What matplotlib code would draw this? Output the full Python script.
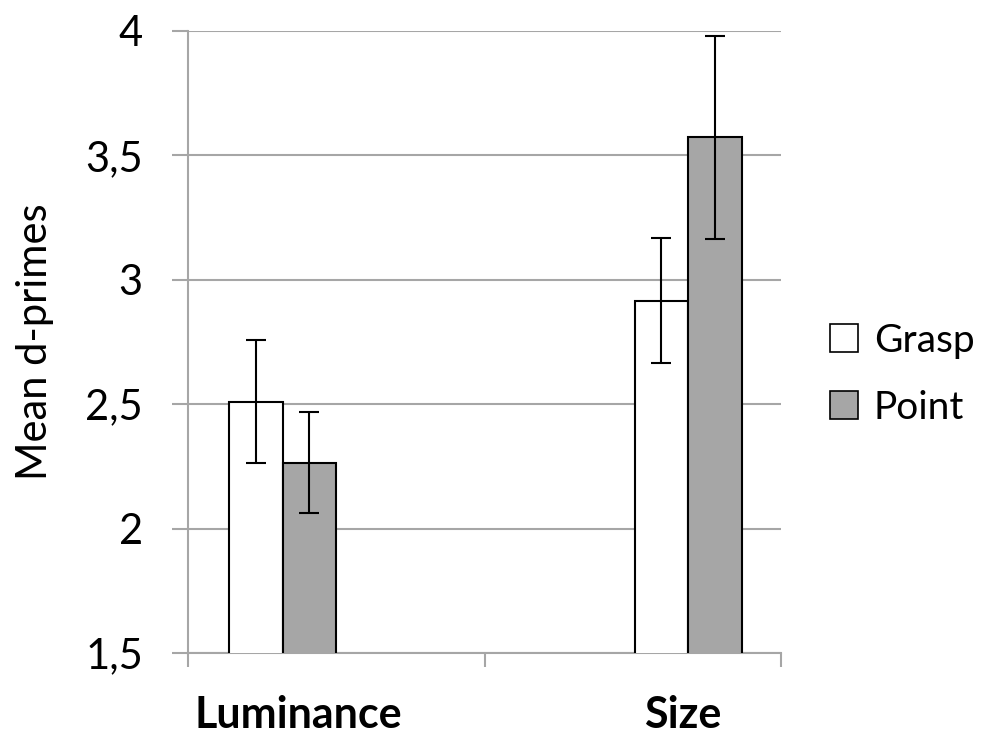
import numpy as np
from matplotlib import pyplot as plt
from matplotlib.patches import Patch

# data
categories = ['Luminance', 'Size']
series = ['Grasp', 'Point']
grasp = [2.51, 2.915]
point = [2.265, 3.572]
grasp_err = [0.247, 0.251]
point_err = [0.203, 0.408]
y_ticks = [1.5, 2, 2.5, 3, 3.5, 4]
y_tick_labels = ['1,5', '2', '2,5', '3', '3,5', '4']


def plotter():
    plt.rcParams['font.family'] = ['Lato', 'DejaVu Sans']
    grid_c = '#a6a6a6'

    fig = plt.figure(figsize=(9.84, 7.34), dpi=100)
    ax = fig.add_axes([0.191, 0.1104, 0.603, 0.8474])

    # group centres sit off the category centres in the original
    centres = np.array([0.319, 1.686])
    w = 0.18
    ax.bar(centres - w / 2, grasp, w, bottom=0, color='white', edgecolor='black',
           linewidth=1.5, zorder=3)
    ax.bar(centres + w / 2, point, w, bottom=0, color='#a6a6a6', edgecolor='black',
           linewidth=1.5, zorder=3)
    ax.errorbar(centres - w / 2, grasp, yerr=grasp_err, fmt='none', ecolor='black',
                elinewidth=1.5, capsize=7, capthick=1.5, zorder=4)
    ax.errorbar(centres + w / 2, point, yerr=point_err, fmt='none', ecolor='black',
                elinewidth=1.5, capsize=7, capthick=1.5, zorder=4)

    ax.set_xlim(0, 2)
    ax.set_ylim(1.5, 4)
    ax.set_yticks(y_ticks)
    ax.set_yticklabels(y_tick_labels, fontsize=30)
    ax.set_xticks([0, 1, 2])
    ax.set_xticklabels([])
    ax.tick_params(axis='y', length=11.5, width=1.5, color=grid_c, pad=21)
    ax.tick_params(axis='x', length=10, width=1.5, color=grid_c)
    ax.yaxis.grid(True, color=grid_c, linewidth=1.5, zorder=0)
    ax.set_axisbelow(True)
    for s in ['top', 'right']:
        ax.spines[s].set_visible(False)
    for s in ['left', 'bottom']:
        ax.spines[s].set_color(grid_c)
        ax.spines[s].set_linewidth(1.5)

    label_x = [0.371, 1.669]
    for x, name in zip(label_x, categories):
        ax.text(x, -0.1, name, transform=ax.get_xaxis_transform(), ha='center',
                va='center', fontsize=31, fontweight='bold')

    ax.set_ylabel('Mean d-primes', fontsize=30, labelpad=22)

    handles = [Patch(facecolor='white', edgecolor='black', linewidth=1.2),
               Patch(facecolor='#a6a6a6', edgecolor='black', linewidth=1.2)]
    fig.legend(handles, series, loc='center left', bbox_to_anchor=(0.843, 0.49),
               frameon=False, fontsize=28, handlelength=0.72, handleheight=0.72,
               handletextpad=0.42, labelspacing=0.8, borderaxespad=0,
               borderpad=0)

    fig.savefig('out.png', dpi=100)


if __name__ == '__main__':
    plotter()
